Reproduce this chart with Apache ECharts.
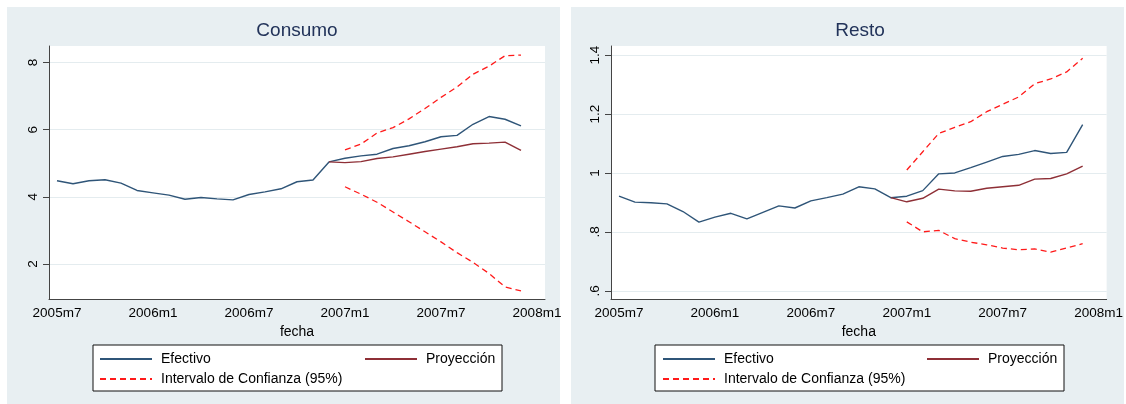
<!DOCTYPE html>
<html>
<head>
<meta charset="utf-8">
<script src="https://cdn.jsdelivr.net/npm/echarts@6/dist/echarts.min.js"></script>
<style>
  html, body { margin: 0; padding: 0; background: #fff; }
  #chart { width: 1126px; height: 404px; }
</style>
</head>
<body>
<div id="chart"></div>
<script>
// months on the x axis (2005m7 .. 2008m1)
var months = ['2005m7', '2005m8', '2005m9', '2005m10', '2005m11', '2005m12',
    '2006m1', '2006m2', '2006m3', '2006m4', '2006m5', '2006m6',
    '2006m7', '2006m8', '2006m9', '2006m10', '2006m11', '2006m12',
    '2007m1', '2007m2', '2007m3', '2007m4', '2007m5', '2007m6',
    '2007m7', '2007m8', '2007m9', '2007m10', '2007m11', '2007m12', '2008m1'];

// Consumo
var consumoEfectivo = [4.48, 4.39, 4.48, 4.51, 4.41, 4.19, 4.12, 4.05, 3.93, 3.98, 3.94, 3.91, 4.07, 4.15, 4.24,
    4.45, 4.50, 5.04, 5.15, 5.22, 5.27, 5.44, 5.52, 5.64, 5.79, 5.83, 6.16, 6.39, 6.31, 6.11];
var consumoProy = [null, null, null, null, null, null, null, null, null, null, null, null, null, null, null, null, null,
    5.04, 5.02, 5.05, 5.14, 5.19, 5.27, 5.35, 5.42, 5.49, 5.58, 5.60, 5.63, 5.38];
var consumoSup = [null, null, null, null, null, null, null, null, null, null, null, null, null, null, null, null, null, null,
    5.40, 5.57, 5.90, 6.06, 6.32, 6.63, 6.96, 7.27, 7.65, 7.89, 8.20, 8.22];
var consumoInf = [null, null, null, null, null, null, null, null, null, null, null, null, null, null, null, null, null, null,
    4.30, 4.08, 3.84, 3.55, 3.26, 2.96, 2.66, 2.34, 2.05, 1.72, 1.32, 1.20];

// Resto
var restoEfectivo = [0.921, 0.901, 0.899, 0.895, 0.869, 0.833, 0.850, 0.863, 0.844, 0.866, 0.888, 0.881, 0.905, 0.916, 0.928,
    0.953, 0.946, 0.916, 0.921, 0.940, 0.997, 1.000, 1.018, 1.037, 1.056, 1.063, 1.076, 1.066, 1.070, 1.164];
var restoProy = [null, null, null, null, null, null, null, null, null, null, null, null, null, null, null, null, null,
    0.916, 0.902, 0.914, 0.945, 0.939, 0.938, 0.948, 0.953, 0.958, 0.979, 0.981, 0.997, 1.023];
var restoSup = [null, null, null, null, null, null, null, null, null, null, null, null, null, null, null, null, null, null,
    1.010, 1.072, 1.134, 1.155, 1.174, 1.208, 1.233, 1.258, 1.303, 1.319, 1.343, 1.389];
var restoInf = [null, null, null, null, null, null, null, null, null, null, null, null, null, null, null, null, null, null,
    0.834, 0.800, 0.805, 0.777, 0.765, 0.756, 0.745, 0.739, 0.742, 0.731, 0.745, 0.760];

// y tick labels
var consumoTicks = [2, 4, 6, 8];
var restoTicks = [0.6, 0.8, 1, 1.2, 1.4];

var FONT = '"Liberation Sans", Arial, sans-serif';
var colEfectivo = '#2f5578';
var colProy = '#8e2f36';
var colIC = '#ff1a1a';
var panelBg = '#e8eff2';
var gridCol = '#e4ecef';

function xAxisFor(gridIndex) {
    return {
        type: 'category',
        gridIndex: gridIndex,
        data: months,
        boundaryGap: true,
        name: 'fecha',
        nameLocation: 'middle',
        nameGap: 23,
        nameTextStyle: { fontFamily: FONT, fontSize: 14, color: '#000' },
        axisLine: { lineStyle: { color: '#444', width: 1 } },
        axisTick: { alignWithLabel: true, interval: 5, length: 6, lineStyle: { color: '#444' } },
        axisLabel: { interval: 5, margin: 7, fontFamily: FONT, fontSize: 13.5, color: '#000' },
        splitLine: { show: false }
    };
}

function yAxisFor(gridIndex, min, max, ticks) {
    return {
        type: 'value',
        gridIndex: gridIndex,
        min: min,
        max: max,
        axisLine: { show: true, lineStyle: { color: '#444', width: 1 } },
        axisTick: { show: true, length: 6, customValues: ticks, lineStyle: { color: '#444' } },
        axisLabel: {
            customValues: ticks,
            rotate: 90,
            margin: 9,
            fontFamily: FONT,
            fontSize: 13.5,
            color: '#000',
            formatter: function (v) { return String(+v.toFixed(2)).replace(/^0\./, '.'); }
        },
        splitLine: { show: true, lineStyle: { color: gridCol, width: 1 } }
    };
}

function lineSeries(name, data, idx, color, dashed, width) {
    return {
        name: name,
        type: 'line',
        xAxisIndex: idx,
        yAxisIndex: idx,
        data: data,
        symbol: 'none',
        connectNulls: false,
        lineStyle: { color: color, width: width, type: dashed ? [6, 4] : 'solid' },
        itemStyle: { color: color }
    };
}

var IC = 'Intervalo de Confianza (95%)';
var legendCommon = {
    orient: 'horizontal',
    padding: 0,
    itemWidth: 52,
    itemHeight: 14,
    selectedMode: false,
    itemStyle: { opacity: 0 },
    textStyle: { fontFamily: FONT, fontSize: 14, color: '#000', padding: [0, 0, 0, 4] }
};
function leg(name, left, top) {
    return Object.assign({}, legendCommon, { data: [name], left: left, top: top });
}

var myChart = echarts.init(document.getElementById('chart'));

var option = {
    animation: false,
    backgroundColor: '#fff',
    title: [
        { text: 'Consumo', left: 297, top: 21, textAlign: 'center', padding: 0,
          textStyle: { fontFamily: FONT, fontSize: 19, fontWeight: 'normal', color: '#22335a' } },
        { text: 'Resto', left: 860, top: 21, textAlign: 'center', padding: 0,
          textStyle: { fontFamily: FONT, fontSize: 19, fontWeight: 'normal', color: '#22335a' } }
    ],
    graphic: [
        { type: 'rect', z: -10, shape: { x: 7, y: 7, width: 553, height: 400 }, style: { fill: panelBg } },
        { type: 'rect', z: -10, shape: { x: 571, y: 7, width: 553, height: 400 }, style: { fill: panelBg } },
        { type: 'rect', z: 1, shape: { x: 93, y: 345, width: 409, height: 46 }, style: { fill: '#fff', stroke: '#111', lineWidth: 1 } },
        { type: 'rect', z: 1, shape: { x: 655, y: 345, width: 409, height: 46 }, style: { fill: '#fff', stroke: '#111', lineWidth: 1 } }
    ],
    grid: [
        { left: 49, top: 46, width: 496, height: 253, show: true, backgroundColor: '#fff', borderWidth: 0 },
        { left: 611, top: 46, width: 498, height: 253, show: true, backgroundColor: '#fff', borderWidth: 0 }
    ],
    legend: [
        leg('Efectivo', 99, 352), leg('Proyección', 364, 352), leg(IC, 99, 372),
        leg('Efectivo', 662, 352), leg('Proyección', 926, 352), leg(IC, 662, 372)
    ],
    xAxis: [xAxisFor(0), xAxisFor(1)],
    yAxis: [yAxisFor(0, 0.96, 8.49, consumoTicks), yAxisFor(1, 0.572, 1.431, restoTicks)],
    series: [
        lineSeries('Efectivo', consumoEfectivo, 0, colEfectivo, false, 1.4),
        lineSeries('Proyección', consumoProy, 0, colProy, false, 1.4),
        lineSeries(IC, consumoSup, 0, colIC, true, 1.3),
        lineSeries(IC, consumoInf, 0, colIC, true, 1.3),
        lineSeries('Efectivo', restoEfectivo, 1, colEfectivo, false, 1.4),
        lineSeries('Proyección', restoProy, 1, colProy, false, 1.4),
        lineSeries(IC, restoSup, 1, colIC, true, 1.3),
        lineSeries(IC, restoInf, 1, colIC, true, 1.3)
    ]
};

myChart.setOption(option);
</script>
</body>
</html>
